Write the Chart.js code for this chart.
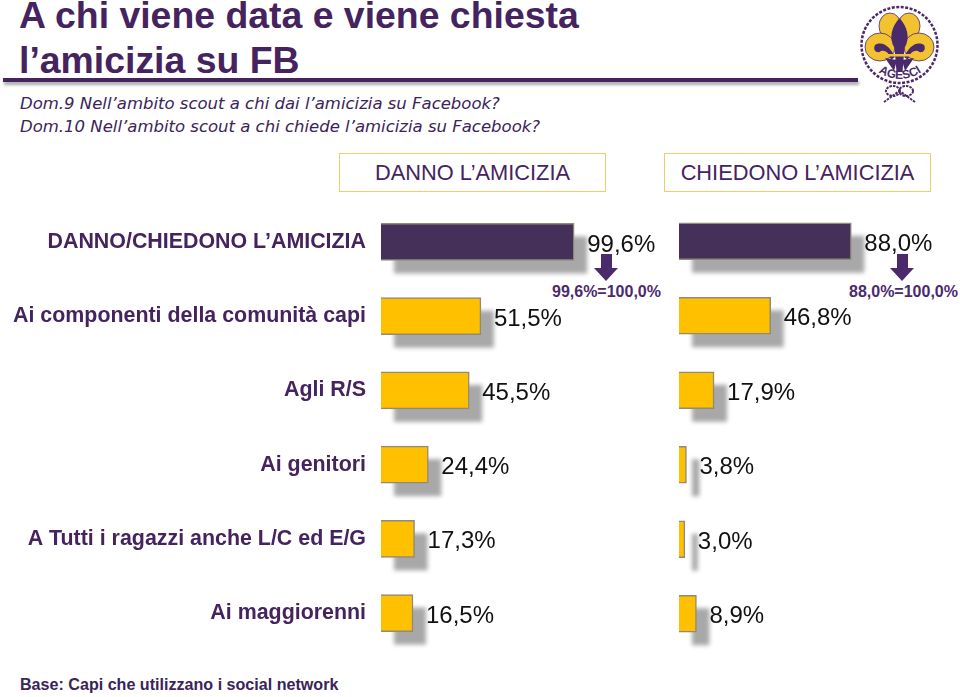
<!DOCTYPE html>
<html>
<head>
<meta charset="utf-8">
<script src="https://cdn.jsdelivr.net/npm/chart.js@4"></script>
<style>
html, body { margin: 0; padding: 0; background: #fff; }
body { width: 960px; height: 697px; overflow: hidden; position: relative; font-family: "Liberation Sans", Arial, sans-serif; color: #45235f; }
.abs { position: absolute; white-space: nowrap; }
#title { left: 19px; top: -7px; font-size: 37.4px; line-height: 45px; font-weight: bold; color: #45235f; }
#rule { left: 3px; top: 78px; width: 855px; height: 4px; background: #45235f; box-shadow: 1px 3px 3px #aaa; }
#question { left: 20px; top: 92px; font-family: "DejaVu Sans"; font-style: italic; font-size: 16.5px; line-height: 23px; color: #3b2458; }
.box { top: 153px; width: 265px; height: 37px; line-height: 37px; border: 1.5px solid #eccf6b; text-align: center; font-size: 21.8px; color: #45235f; }
#base { left: 20px; top: 675px; font-size: 16.100px; font-weight: bold; color: #3b2458; }
.note { font-size: 16px; font-weight: bold; color: #4b2a6b; }
canvas { position: absolute; }
#wrapLeft { position: absolute; left: 0; top: 185px; width: 670px; height: 485px; }
#wrapRight { position: absolute; left: 670px; top: 204px; width: 290px; height: 447px; }
#marks { position: absolute; left: 0; top: 0; }
</style>
</head>
<body>
<div class="abs" id="title">A chi viene data e viene chiesta<br>l’amicizia su FB</div>
<div class="abs" id="rule"></div>
<div class="abs" id="question">Dom.9 Nell’ambito scout a chi dai l’amicizia su Facebook?<br>Dom.10 Nell’ambito scout a chi chiede l’amicizia su Facebook?</div>
<div class="abs box" style="left:339px">DANNO L’AMICIZIA</div>
<div class="abs box" style="left:664px">CHIEDONO L’AMICIZIA</div>
<div class="abs note" style="left:552px;top:283px">99,6%=100,0%</div>
<div class="abs note" style="left:849px;top:283px">88,0%=100,0%</div>
<div class="abs" id="base">Base: Capi che utilizzano i social network</div>

<svg id="marks" width="960" height="697">
  <!-- frecce -->
  <path d="M601 254h11v14h6l-12 13l-12-13h7z" fill="#4b2a6b"/>
  <path d="M897 254h11v14h6l-12 13l-12-13h7z" fill="#4b2a6b"/>
  <!-- logo AGESCI -->
  <circle cx="899.500" cy="45" r="38" fill="none" stroke="#4b2a6b" stroke-width="2.500" stroke-dasharray="3 1.500"/>
  <g fill="#f2c230" stroke="#4b2a6b" stroke-width="0.800">
    <ellipse cx="890" cy="26" rx="11" ry="13"/>
    <ellipse cx="909" cy="26" rx="11" ry="13"/>
    <ellipse cx="880" cy="47" rx="15" ry="14"/>
    <ellipse cx="919" cy="47" rx="15" ry="14"/>
  </g>
  <path d="M899.500 18c8 9 11 20 5 30l-2 24h-6l-2-24c-6-10-3-21 5-30z" fill="#4b2a6b"/>
  <path d="M895 57c-4-9-12-17-20-12c-3 6 3 9 6 6c6-1 8 3 10 9z" fill="#4b2a6b"/>
  <path d="M904 57c4-9 12-17 20-12c3 6-3 9-6 6c-6-1-8 3-10 9z" fill="#4b2a6b"/>
  <rect x="882" y="54" width="35" height="2.500" fill="#f2c230"/>
  <path d="M885 58l9 13l3-11zM914 58l-9 13l-3-11z" fill="#4b2a6b"/>
  <path id="logoArc" d="M873 68Q900 90 927 68" fill="none"/>
  <text font-family="Liberation Sans" font-weight="bold" font-size="12" fill="#4b2a6b"><textPath href="#logoArc" startOffset="50%" text-anchor="middle">AGESCI</textPath></text>
  <g fill="none" stroke="#4b2a6b" stroke-width="2" stroke-dasharray="2.500 1">
    <ellipse cx="893" cy="91" rx="7" ry="5"/>
    <ellipse cx="906" cy="91" rx="7" ry="5"/>
    <path d="M884 102l14-10M915 102l-14-10"/>
  </g>
</svg>

<div id="wrapLeft"><canvas id="chartLeft"></canvas></div>
<div id="wrapRight"><canvas id="chartRight"></canvas></div>

<script>
const categories = [
    'DANNO/CHIEDONO L’AMICIZIA',
    'Ai componenti della comunità capi',
    'Agli R/S',
    'Ai genitori',
    'A Tutti i ragazzi anche L/C ed E/G',
    'Ai maggiorenni'
];
const danno = [99.6, 51.5, 45.5, 24.4, 17.3, 16.5];
const chiedono = [88.0, 46.8, 17.9, 3.8, 3.0, 8.9];
const barColors = ['#45305a', '#ffc000', '#ffc000', '#ffc000', '#ffc000', '#ffc000'];

// grey shadow behind the bars, the bar element clips its own canvas shadow
const barShadow = {
    id: 'barShadow',
    beforeDatasetsDraw(chart) {
        const ctx = chart.ctx;
        const bars = chart.getDatasetMeta(0).data;
        ctx.save();
        ctx.fillStyle = '#a8a8a8';
        ctx.filter = 'blur(2px)';
        for (let i = 0; i < bars.length; i++) {
            const b = bars[i];
            ctx.fillRect(b.base + 13, b.y - b.height / 2 + 13, b.x - b.base, b.height);
        }
        ctx.restore();
    }
};

// percent text next to each bar
const valueLabels = {
    id: 'valueLabels',
    afterDatasetsDraw(chart) {
        const ctx = chart.ctx;
        const bars = chart.getDatasetMeta(0).data;
        const values = chart.data.datasets[0].data;
        ctx.save();
        ctx.font = '24px "Liberation Sans"';
        ctx.fillStyle = '#111';
        ctx.textBaseline = 'middle';
        for (let i = 0; i < bars.length; i++) {
            const text = values[i].toFixed(1).replace('.', ',') + '%';
            ctx.fillText(text, bars[i].x + 13, bars[i].y + 3);
        }
        ctx.restore();
    }
};

function makeChart(id, values, xMax, showLabels) {
    const ctx = document.getElementById(id).getContext('2d');
    return new Chart(ctx, {
        type: 'bar',
        data: {
            labels: categories,
            datasets: [{
                data: values,
                backgroundColor: barColors,
                borderColor: '#8f8a7c',
                borderWidth: 1.5,
                barThickness: 37
            }]
        },
        options: {
            indexAxis: 'y',
            responsive: true,
            maintainAspectRatio: false,
            animation: false,
            layout: { padding: { left: showLabels ? 0 : 9 } },
            plugins: { legend: { display: false }, tooltip: { enabled: false } },
            scales: {
                x: { display: false, min: 0, max: xMax },
                y: {
                    display: showLabels,
                    afterFit(scale) { if (showLabels) scale.width = 381; },
                    grid: { display: false },
                    border: { display: false },
                    ticks: {
                        color: '#45235f',
                        padding: 7,
                        font: { family: 'Liberation Sans', size: 21.400, weight: 'bold' }
                    }
                }
            }
        },
        plugins: [barShadow, valueLabels]
    });
}

makeChart('chartLeft', danno, 149, true);
makeChart('chartRight', chiedono, 143.500, false);
</script>
</body>
</html>
